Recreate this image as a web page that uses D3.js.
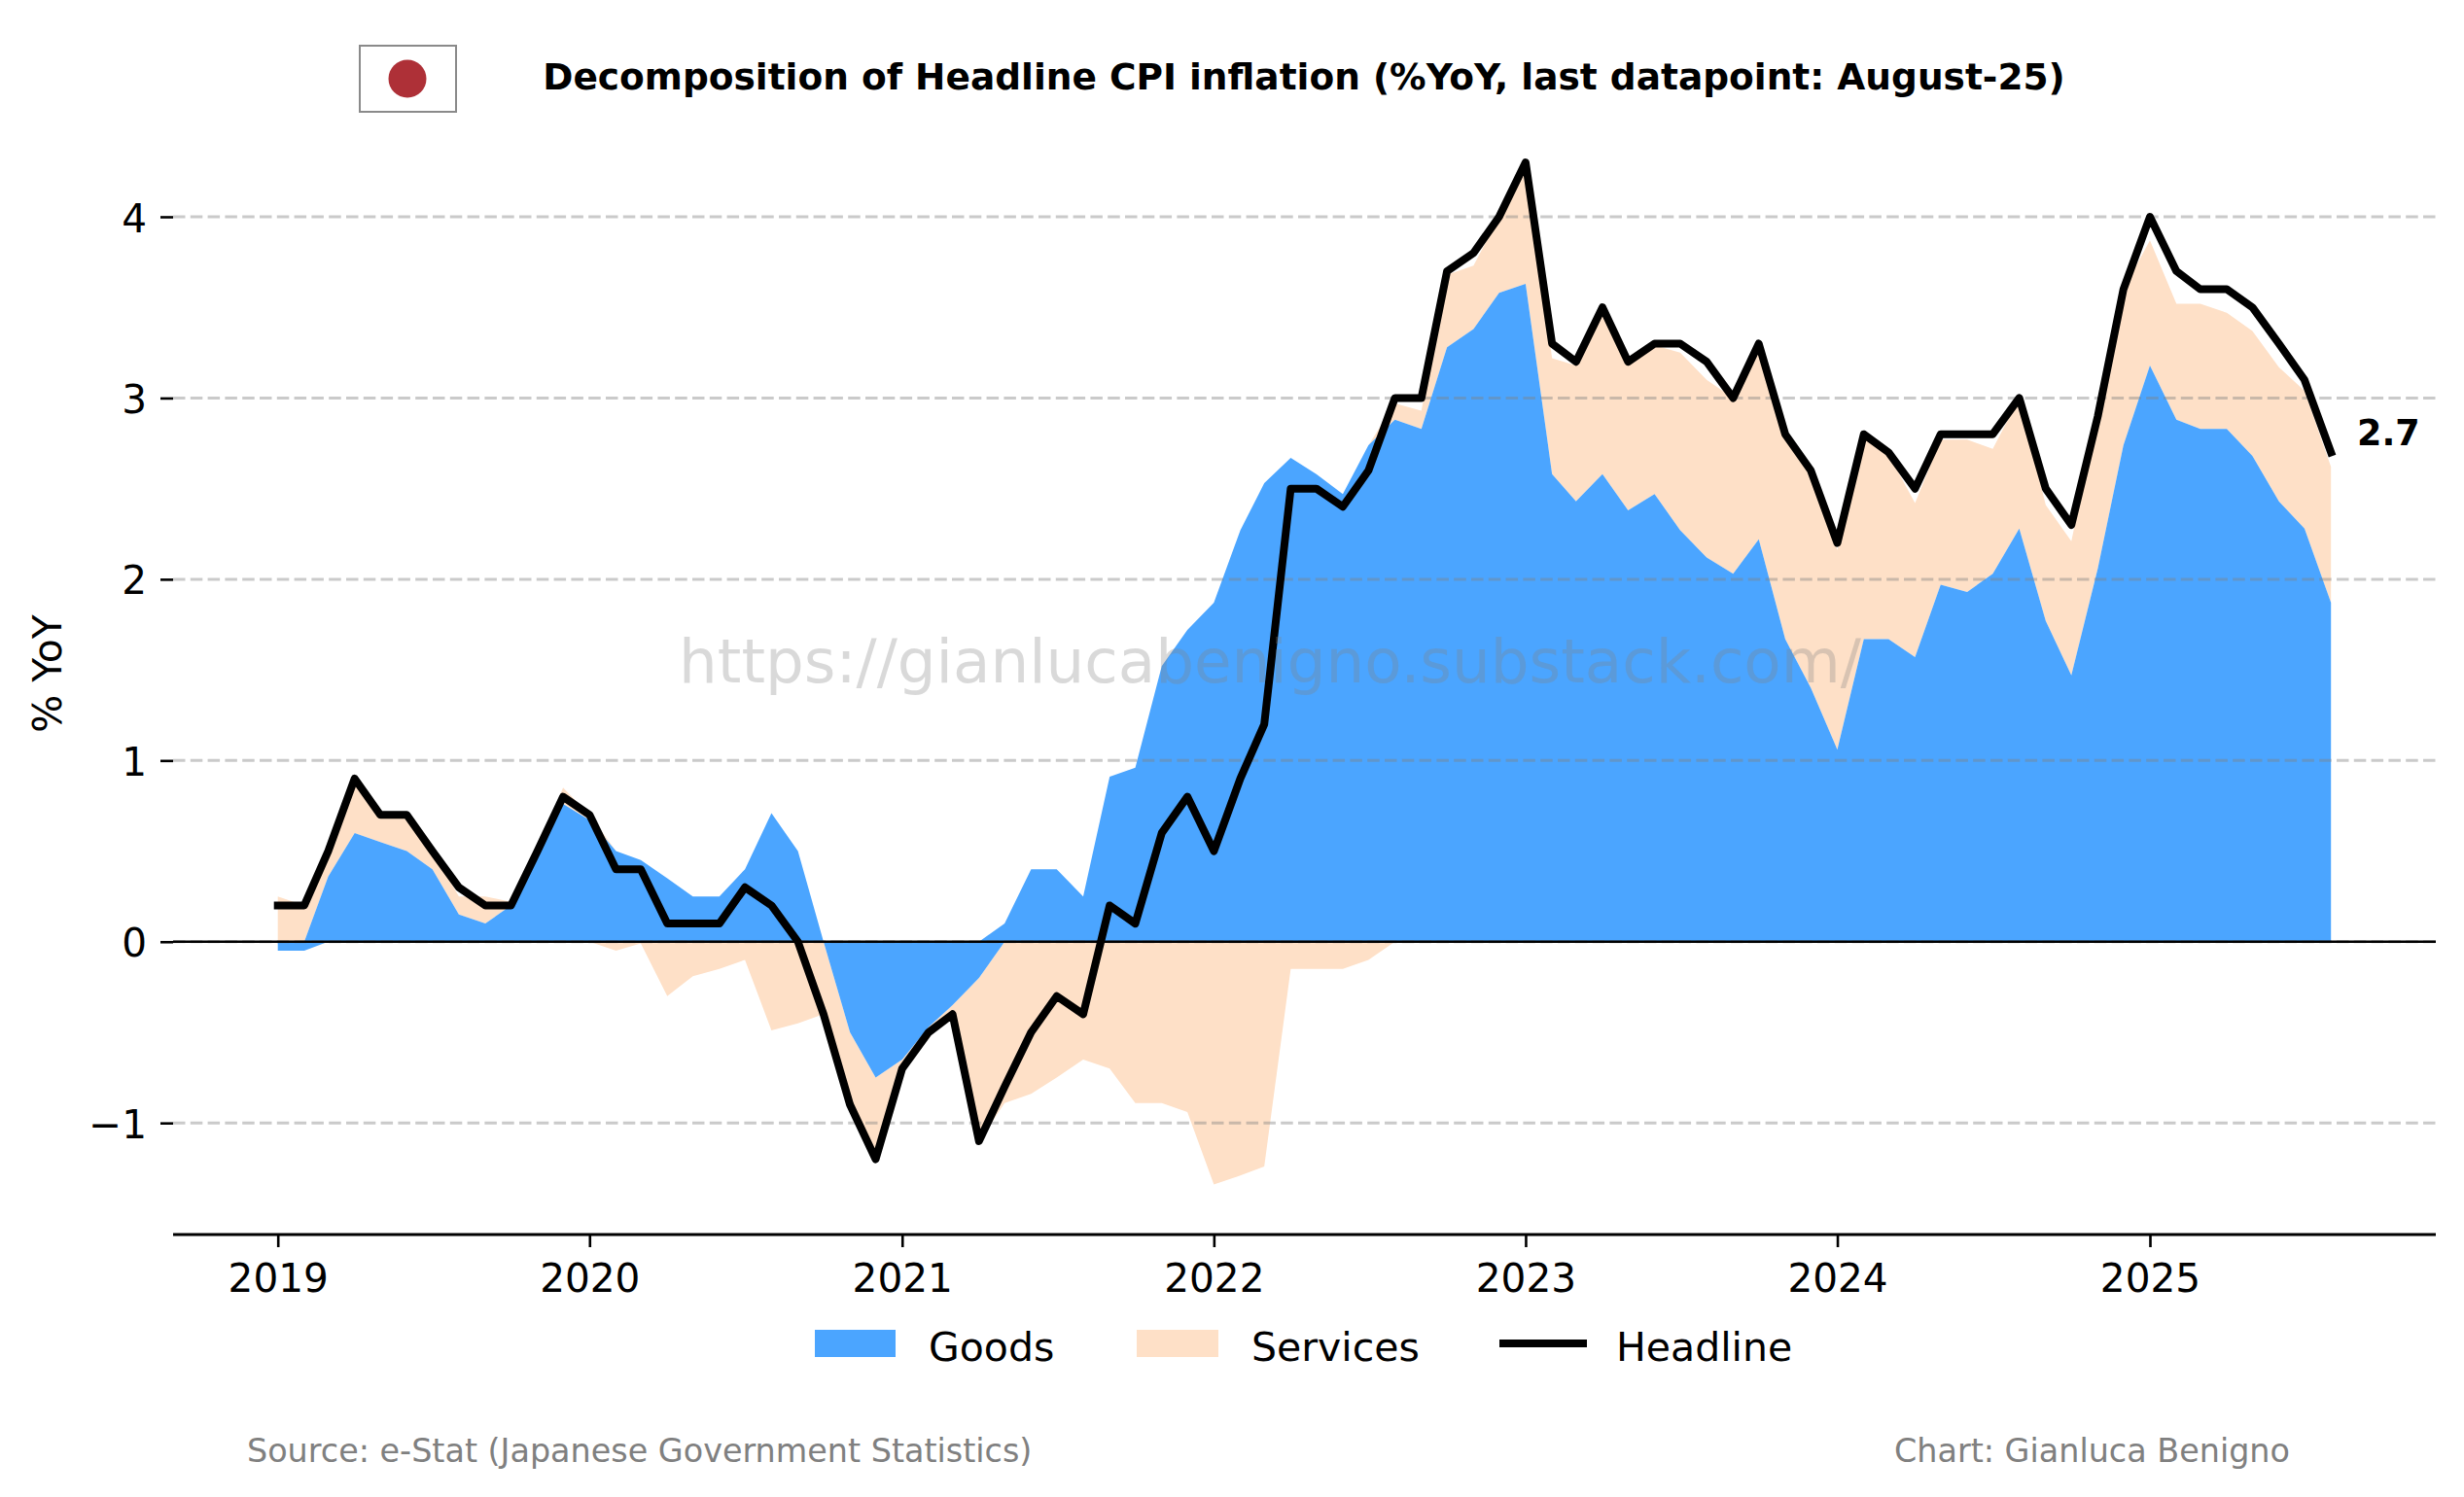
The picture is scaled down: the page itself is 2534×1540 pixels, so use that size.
<!DOCTYPE html>
<html>
<head>
<meta charset="utf-8">
<title>Japan CPI decomposition</title>
<script src="https://cdn.jsdelivr.net/npm/d3@7"></script>
<style>
  html, body { margin: 0; padding: 0; background: #fff; }
  svg { display: block; }
  text { font-family: "DejaVu Sans", sans-serif; }
</style>
</head>
<body>
<script>
//-----------------Data (monthly, Jan 2019 to Aug 2025)----------------

const yearTicks = [2019, 2020, 2021, 2022, 2023, 2024, 2025];
const valueTicks = [-1, 0, 1, 2, 3, 4];

const headline = [
  0.2, 0.2, 0.5, 0.9, 0.7, 0.7, 0.5, 0.3, 0.2, 0.2, 0.5, 0.8,
  0.7, 0.4, 0.4, 0.1, 0.1, 0.1, 0.3, 0.2, 0.0, -0.4, -0.9, -1.2,
  -0.7, -0.5, -0.4, -1.1, -0.8, -0.5, -0.3, -0.4, 0.2, 0.1, 0.6, 0.8,
  0.5, 0.9, 1.2, 2.5, 2.5, 2.4, 2.6, 3.0, 3.0, 3.7, 3.8, 4.0,
  4.3, 3.3, 3.2, 3.5, 3.2, 3.3, 3.3, 3.2, 3.0, 3.3, 2.8, 2.6,
  2.2, 2.8, 2.7, 2.5, 2.8, 2.8, 2.8, 3.0, 2.5, 2.3, 2.9, 3.6,
  4.0, 3.7, 3.6, 3.6, 3.5, 3.3, 3.1, 2.7
];

const goods = [
  -0.05, -0.05, 0.36, 0.6, 0.55, 0.5, 0.4, 0.15, 0.1, 0.2, 0.48, 0.76,
  0.67, 0.5, 0.45, 0.35, 0.25, 0.25, 0.4, 0.71, 0.5, 0.0, -0.5, -0.75,
  -0.65, -0.47, -0.35, -0.2, 0.1, 0.4, 0.4, 0.25, 0.91, 0.96, 1.52, 1.72,
  1.87, 2.27, 2.53, 2.67, 2.58, 2.47, 2.74, 2.88, 2.83, 3.28, 3.38, 3.58,
  3.63, 2.58, 2.43, 2.58, 2.38, 2.47, 2.27, 2.12, 2.03, 2.22, 1.67, 1.4,
  1.06, 1.67, 1.67, 1.57, 1.97, 1.93, 2.03, 2.28, 1.77, 1.47, 2.06, 2.74,
  3.18, 2.88, 2.83, 2.83, 2.68, 2.43, 2.28, 1.87
];

const services = [
  0.25, 0.2, 0.14, 0.3, 0.15, 0.2, 0.1, 0.1, 0.15, 0.02, 0.02, 0.09,
  0.03, -0.05, -0.01, -0.3, -0.19, -0.15, -0.1, -0.49, -0.45, -0.4, -0.4, -0.44,
  -0.05, -0.03, -0.05, -0.9, -0.89, -0.84, -0.75, -0.65, -0.7, -0.89, -0.89, -0.94,
  -1.34, -1.29, -1.24, -0.15, -0.15, -0.15, -0.1, 0.09, 0.1, 0.4, 0.35, 0.42,
  0.65, 0.64, 0.75, 0.92, 0.82, 0.82, 0.98, 0.98, 0.97, 1.07, 1.12, 1.2,
  1.1, 1.12, 1.02, 0.85, 0.8, 0.84, 0.69, 0.72, 0.64, 0.74, 0.84, 0.86,
  0.69, 0.64, 0.69, 0.64, 0.69, 0.74, 0.76, 0.75
];

const legendLabels = ["Goods", "Services", "Headline"];

//-----------------Setup------------------

const width = 2534;
const height = 1540;
const plotLeft = 178;
const plotRight = 2505;
const plotBottom = 1270;

const goodsColor = "#4ba5ff";
const servicesColor = "#fee0c7";

const svg = d3.select("body").append("svg").attr("width", width).attr("height", height);

const months = headline.map((d, i) => new Date(2019, i, 1));

const x = d3.scaleTime().domain([new Date(2019, 0, 1), new Date(2025, 0, 1)]).range([285.7, 2211]);
const y = d3.scaleLinear().domain([-1, 4]).range([1155.2, 223]);

//----------------Stacks: positive and negative parts pile up separately-----------------

const rows = months.map((d, i) => ({
  date: d,
  goodsUp: Math.max(goods[i], 0),
  servicesUp: Math.max(services[i], 0),
  goodsDown: Math.min(goods[i], 0),
  servicesDown: Math.min(services[i], 0),
}));

const stackUp = d3.stack().keys(["goodsUp", "servicesUp"])(rows);
const stackDown = d3.stack().keys(["goodsDown", "servicesDown"])(rows);

const area = d3
  .area()
  .x((d) => x(d.data.date))
  .y0((d) => y(d[0]))
  .y1((d) => y(d[1]));

const layers = [
  { data: stackUp[1], color: servicesColor },
  { data: stackDown[1], color: servicesColor },
  { data: stackUp[0], color: goodsColor },
  { data: stackDown[0], color: goodsColor },
];

svg
  .append("g")
  .selectAll("path")
  .data(layers)
  .enter()
  .append("path")
  .attr("d", (d) => area(d.data))
  .attr("fill", (d) => d.color);

//----------------Grid and axes-----------------

svg
  .append("g")
  .selectAll("line")
  .data(valueTicks)
  .enter()
  .append("line")
  .attr("x1", plotLeft)
  .attr("x2", plotRight)
  .attr("y1", (d) => y(d))
  .attr("y2", (d) => y(d))
  .attr("stroke", "#808080")
  .attr("stroke-opacity", 0.42)
  .attr("stroke-width", 3)
  .attr("stroke-dasharray", "12.5 5.3");

const yAxis = svg
  .append("g")
  .attr("transform", `translate(${plotLeft},0)`)
  .call(d3.axisLeft(y).tickValues(valueTicks).tickSize(13).tickPadding(14).tickFormat(d3.format("d")));
yAxis.select(".domain").remove();
yAxis.selectAll(".tick text").attr("dy", "0.37em");

const xAxis = svg
  .append("g")
  .attr("transform", `translate(0,${plotBottom})`)
  .call(
    d3
      .axisBottom(x)
      .tickValues(yearTicks.map((d) => new Date(d, 0, 1)))
      .tickSize(13)
      .tickPadding(17)
      .tickFormat(d3.timeFormat("%Y"))
  );
xAxis.select(".domain").remove();

svg.selectAll(".tick line").attr("stroke", "#000").attr("stroke-width", 2.6);
svg.selectAll(".tick text").attr("fill", "#000").style("font-size", "40.6px").style("font-family", "DejaVu Sans");

// bottom spine and zero line
svg.append("line").attr("x1", plotLeft).attr("x2", plotRight).attr("y1", plotBottom).attr("y2", plotBottom).attr("stroke", "#000").attr("stroke-width", 2.8);
svg.append("line").attr("x1", plotLeft).attr("x2", plotRight).attr("y1", y(0)).attr("y2", y(0)).attr("stroke", "#000").attr("stroke-width", 2.4);

//----------------Headline line-----------------

const line = d3
  .line()
  .x((d, i) => x(months[i]))
  .y((d) => y(d));

svg
  .append("path")
  .attr("d", line(headline))
  .attr("fill", "none")
  .attr("stroke", "#000")
  .attr("stroke-width", 8)
  .attr("stroke-linejoin", "round")
  .attr("stroke-linecap", "square");

svg
  .append("text")
  .text(headline[headline.length - 1].toFixed(1))
  .attr("x", 2424)
  .attr("y", 458)
  .style("font-size", "36.5px")
  .style("font-weight", "bold");

//----------------Watermark, title, flag-----------------

svg
  .append("text")
  .text("https://gianlucabenigno.substack.com/")
  .attr("x", 1306)
  .attr("y", 702)
  .attr("text-anchor", "middle")
  .attr("fill", "#808080")
  .attr("fill-opacity", 0.3)
  .style("font-size", "62.7px");

svg
  .append("text")
  .text("Decomposition of Headline CPI inflation (%YoY, last datapoint: August-25)")
  .attr("x", 1341)
  .attr("y", 92)
  .attr("text-anchor", "middle")
  .style("font-size", "37.5px")
  .style("font-weight", "bold");

svg.append("rect").attr("x", 370).attr("y", 47).attr("width", 99).attr("height", 68).attr("fill", "#fff").attr("stroke", "#8a8a8a").attr("stroke-width", 2);
svg.append("circle").attr("cx", 419).attr("cy", 81).attr("r", 19.5).attr("fill", "#ae3037");

svg
  .append("text")
  .text("% YoY")
  .attr("transform", "translate(63,693) rotate(-90)")
  .attr("text-anchor", "middle")
  .style("font-size", "41px");

//-----------Legend--------------

const legendY = 1382;
const legend = svg.append("g");

legend.append("rect").attr("x", 838).attr("y", legendY - 14).attr("width", 83).attr("height", 28).attr("fill", goodsColor);
legend.append("rect").attr("x", 1169).attr("y", legendY - 14).attr("width", 84).attr("height", 28).attr("fill", servicesColor);
legend.append("line").attr("x1", 1546).attr("x2", 1628).attr("y1", legendY).attr("y2", legendY).attr("stroke", "#000").attr("stroke-width", 8).attr("stroke-linecap", "square");

legend
  .selectAll("text")
  .data(legendLabels)
  .enter()
  .append("text")
  .text((d) => d)
  .attr("x", (d, i) => [955, 1287, 1662][i])
  .attr("y", 1400)
  .style("font-size", "41px");

//------------Footer--------------

svg.append("text").text("Source: e-Stat (Japanese Government Statistics)").attr("x", 254).attr("y", 1504).attr("fill", "#808080").style("font-size", "33.4px");
svg.append("text").text("Chart: Gianluca Benigno").attr("x", 1948).attr("y", 1504).attr("fill", "#808080").style("font-size", "33.4px");
</script>
</body>
</html>
